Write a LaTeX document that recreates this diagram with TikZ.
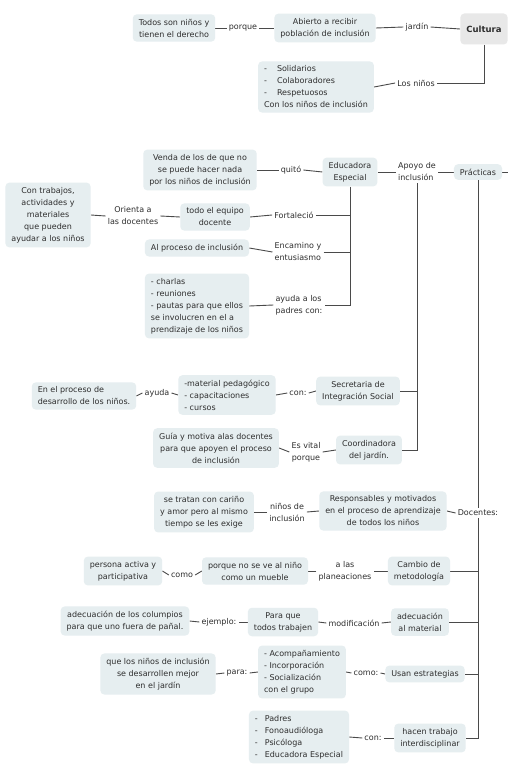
\documentclass[tikz,border=0pt]{standalone}
\usepackage{fontspec}
\newfontfamily\mapfont{DejaVu Sans}
\newcommand\mapfs{\mapfont\fontsize{8}{12}\selectfont}
\definecolor{cfill}{HTML}{E6EEF0}
\definecolor{cgrey}{HTML}{E8E8E8}
\definecolor{ink}{HTML}{2E2E2E}
\definecolor{wirec}{HTML}{4A4A4A}
\pgfdeclarelayer{background}
\pgfsetlayers{background,main}
\tikzset{
  concept/.style={fill=cfill, rounded corners=4pt, inner xsep=6pt, inner ysep=4.5pt,
    align=center, text=ink, font=\mapfs},
  linkl/.style={inner sep=2pt, align=center, text=ink, font=\mapfs},
  wire/.style={draw=wirec, line width=0.9pt}
}
\begin{document}
\begin{tikzpicture}[x=1pt,y=-1pt]
\begin{pgfonlayer}{background}
\fill[white] (0,0) rectangle (508,768);
\end{pgfonlayer}
\useasboundingbox (0,0) rectangle (508,768);

% ---- Cultura branch
\node[concept] (todos) at (174,28) {Todos son niños y\\tienen el derecho};
\node[linkl] (porque) at (243,28) {porque};
\node[concept] (abierto) at (325,28) {Abierto a recibir\\población de inclusión};
\node[linkl] (jardin) at (417,27) {jardín};
\node[concept, fill=cgrey, minimum width=47pt, minimum height=31pt,
  font=\mapfont\fontsize{8.5}{12}\selectfont\bfseries] (cultura) at (484,29) {Cultura};
\node[linkl] (losninos) at (416,83) {Los niños};
\node[concept, align=left] (solid) at (316,87)
  {-\hspace{10pt}Solidarios\\-\hspace{10pt}Colaboradores\\-\hspace{10pt}Respetuosos\\Con los niños de inclusión};

% ---- Apoyo de inclusión branch
\node[concept] (venda) at (200,170) {Venda de los de que no\\se puede hacer nada\\por los niños de inclusión};
\node[linkl] (quito) at (291,170) {quitó};
\node[concept] (educ) at (350,172) {Educadora\\Especial};
\node[linkl, align=left] (apoyo) at (417,172) {Apoyo de\\inclusión};
\node[concept] (pract) at (478,172) {Prácticas};
\coordinate (offright) at (508,172);

\node[concept] (contrab) at (48,215) {Con trabajos,\\actividades y\\materiales\\que pueden\\ayudar a los niños};
\node[linkl] (orienta) at (133,216) {Orienta a\\las docentes};
\node[concept] (equipo) at (215,217) {todo el equipo\\docente};
\node[linkl] (fort) at (294,215) {Fortaleció};
\node[concept] (alproc) at (197,248) {Al proceso de inclusión};
\node[linkl, align=left] (encam) at (298,252) {Encamino y\\entusiasmo};
\node[concept, align=left] (charlas) at (197,306)
  {- charlas\\- reuniones\\- pautas para que ellos\\se involucren en el a\\prendizaje de los niños};
\node[linkl, align=left] (ayudap) at (299,305) {ayuda a los\\padres con:};

\node[concept, align=left] (enel) at (84,396) {En el proceso de\\desarrollo de los niños.};
\node[linkl] (ayuda) at (157,393) {ayuda};
\node[concept, align=left] (mat) at (227,395) {-material pedagógico\\- capacitaciones\\- cursos};
\node[linkl] (con1) at (298,393) {con:};
\node[concept] (secr) at (358,391) {Secretaria de\\Integración Social};
\node[concept] (guia) at (216,448) {Guía y motiva alas docentes\\para que apoyen el proceso\\de inclusión};
\node[linkl] (esvital) at (306,452) {Es vital\\porque};
\node[concept] (coord) at (369,450) {Coordinadora\\del jardín.};

% ---- Prácticas / Docentes branch
\node[concept] (tratan) at (204,512) {se tratan con cariño\\y amor pero al mismo\\tiempo se les exige};
\node[linkl] (ninosinc) at (287,512) {niños de\\inclusión};
\node[concept] (resp) at (383,511) {Responsables y motivados\\en el proceso de aprendizaje\\de todos los niños};
\node[linkl, fill=white] (docentes) at (478,513) {Docentes:};
\node[concept] (persona) at (123,571) {persona activa y\\participativa};
\node[linkl] (como1) at (182,575) {como};
\node[concept] (porqueno) at (255,571) {porque no se ve al niño\\como un mueble};
\node[linkl] (alas) at (345,571) {a las\\planeaciones};
\node[concept] (cambio) at (419,571) {Cambio de\\metodología};
\node[concept] (columpios) at (125,621) {adecuación de los columpios\\para que uno fuera de pañal.};
\node[linkl] (ejemplo) at (219,622) {ejemplo:};
\node[concept] (paraque) at (283,622) {Para que\\todos trabajen};
\node[linkl] (modif) at (354,623) {modificación};
\node[concept] (adecm) at (420,622) {adecuación\\al material};
\node[concept] (quelos) at (158,674) {que los niños de inclusión\\se desarrollen mejor\\en el jardín};
\node[linkl] (para) at (237,673) {para:};
\node[concept, align=left] (acomp) at (302,672) {- Acompañamiento\\- Incorporación\\- Socialización\\con el grupo};
\node[linkl] (como2) at (366,673) {como:};
\node[concept] (usan) at (425,674) {Usan estrategias};
\node[concept, align=left] (padres) at (299,737)
  {-\hspace{7pt}Padres\\-\hspace{7pt}Fonoaudióloga\\-\hspace{7pt}Psicóloga\\-\hspace{7pt}Educadora Especial};
\node[linkl] (con2) at (373,738) {con:};
\node[concept] (hacen) at (430,738) {hacen trabajo\\interdisciplinar};

\begin{pgfonlayer}{background}
% Cultura
\draw[wire] (todos.east) -- (porque.west);
\draw[wire] (porque.east) -- (abierto.west);
\draw[wire] (abierto.east) -- (jardin.west);
\draw[wire] (jardin.east) -- (cultura.west);
\draw[wire] (cultura.south) |- (losninos.east);
\draw[wire] (losninos.west) -- (solid.east);
% Educadora Especial
\draw[wire] (venda.east) -- (quito.west);
\draw[wire] (quito.east) -- (educ.west);
\draw[wire] (educ.east) -- (apoyo.west);
\draw[wire] (apoyo.east) -- (pract.west);
\draw[wire] (pract.east) -- (offright);
\draw[wire] (educ.south) |- (ayudap.east);
\draw[wire] (fort.east) -- (fort.east -| educ.south);
\draw[wire] (encam.east) -- (encam.east -| educ.south);
\draw[wire] (fort.west) -- (equipo.east);
\draw[wire] (equipo.west) -- (orienta.east);
\draw[wire] (orienta.west) -- (contrab.east);
\draw[wire] (alproc.east) -- (encam.west);
\draw[wire] (charlas.east) -- (ayudap.west);
% Apoyo de inclusión
\draw[wire] (apoyo.south) |- (coord.east);
\draw[wire] (secr.east) -- (secr.east -| apoyo.south);
\draw[wire] (secr.west) -- (con1.east);
\draw[wire] (con1.west) -- (mat.east);
\draw[wire] (mat.west) -- (ayuda.east);
\draw[wire] (ayuda.west) -- (enel.east);
\draw[wire] (coord.west) -- (esvital.east);
\draw[wire] (esvital.west) -- (guia.east);
% Prácticas
\draw[wire] (pract.south) |- (hacen.east);
\draw[wire] (cambio.east) -- (cambio.east -| pract.south);
\draw[wire] (adecm.east) -- (adecm.east -| pract.south);
\draw[wire] (usan.east) -- (usan.east -| pract.south);
\draw[wire] (resp.east) -- (docentes.west);
\draw[wire] (resp.west) -- (ninosinc.east);
\draw[wire] (ninosinc.west) -- (tratan.east);
\draw[wire] (cambio.west) -- (alas.east);
\draw[wire] (alas.west) -- (porqueno.east);
\draw[wire] (porqueno.west) -- (como1.east);
\draw[wire] (como1.west) -- (persona.east);
\draw[wire] (adecm.west) -- (modif.east);
\draw[wire] (modif.west) -- (paraque.east);
\draw[wire] (paraque.west) -- (ejemplo.east);
\draw[wire] (ejemplo.west) -- (columpios.east);
\draw[wire] (usan.west) -- (como2.east);
\draw[wire] (como2.west) -- (acomp.east);
\draw[wire] (acomp.west) -- (para.east);
\draw[wire] (para.west) -- (quelos.east);
\draw[wire] (hacen.west) -- (con2.east);
\draw[wire] (con2.west) -- (padres.east);
\end{pgfonlayer}
\end{tikzpicture}
\end{document}
